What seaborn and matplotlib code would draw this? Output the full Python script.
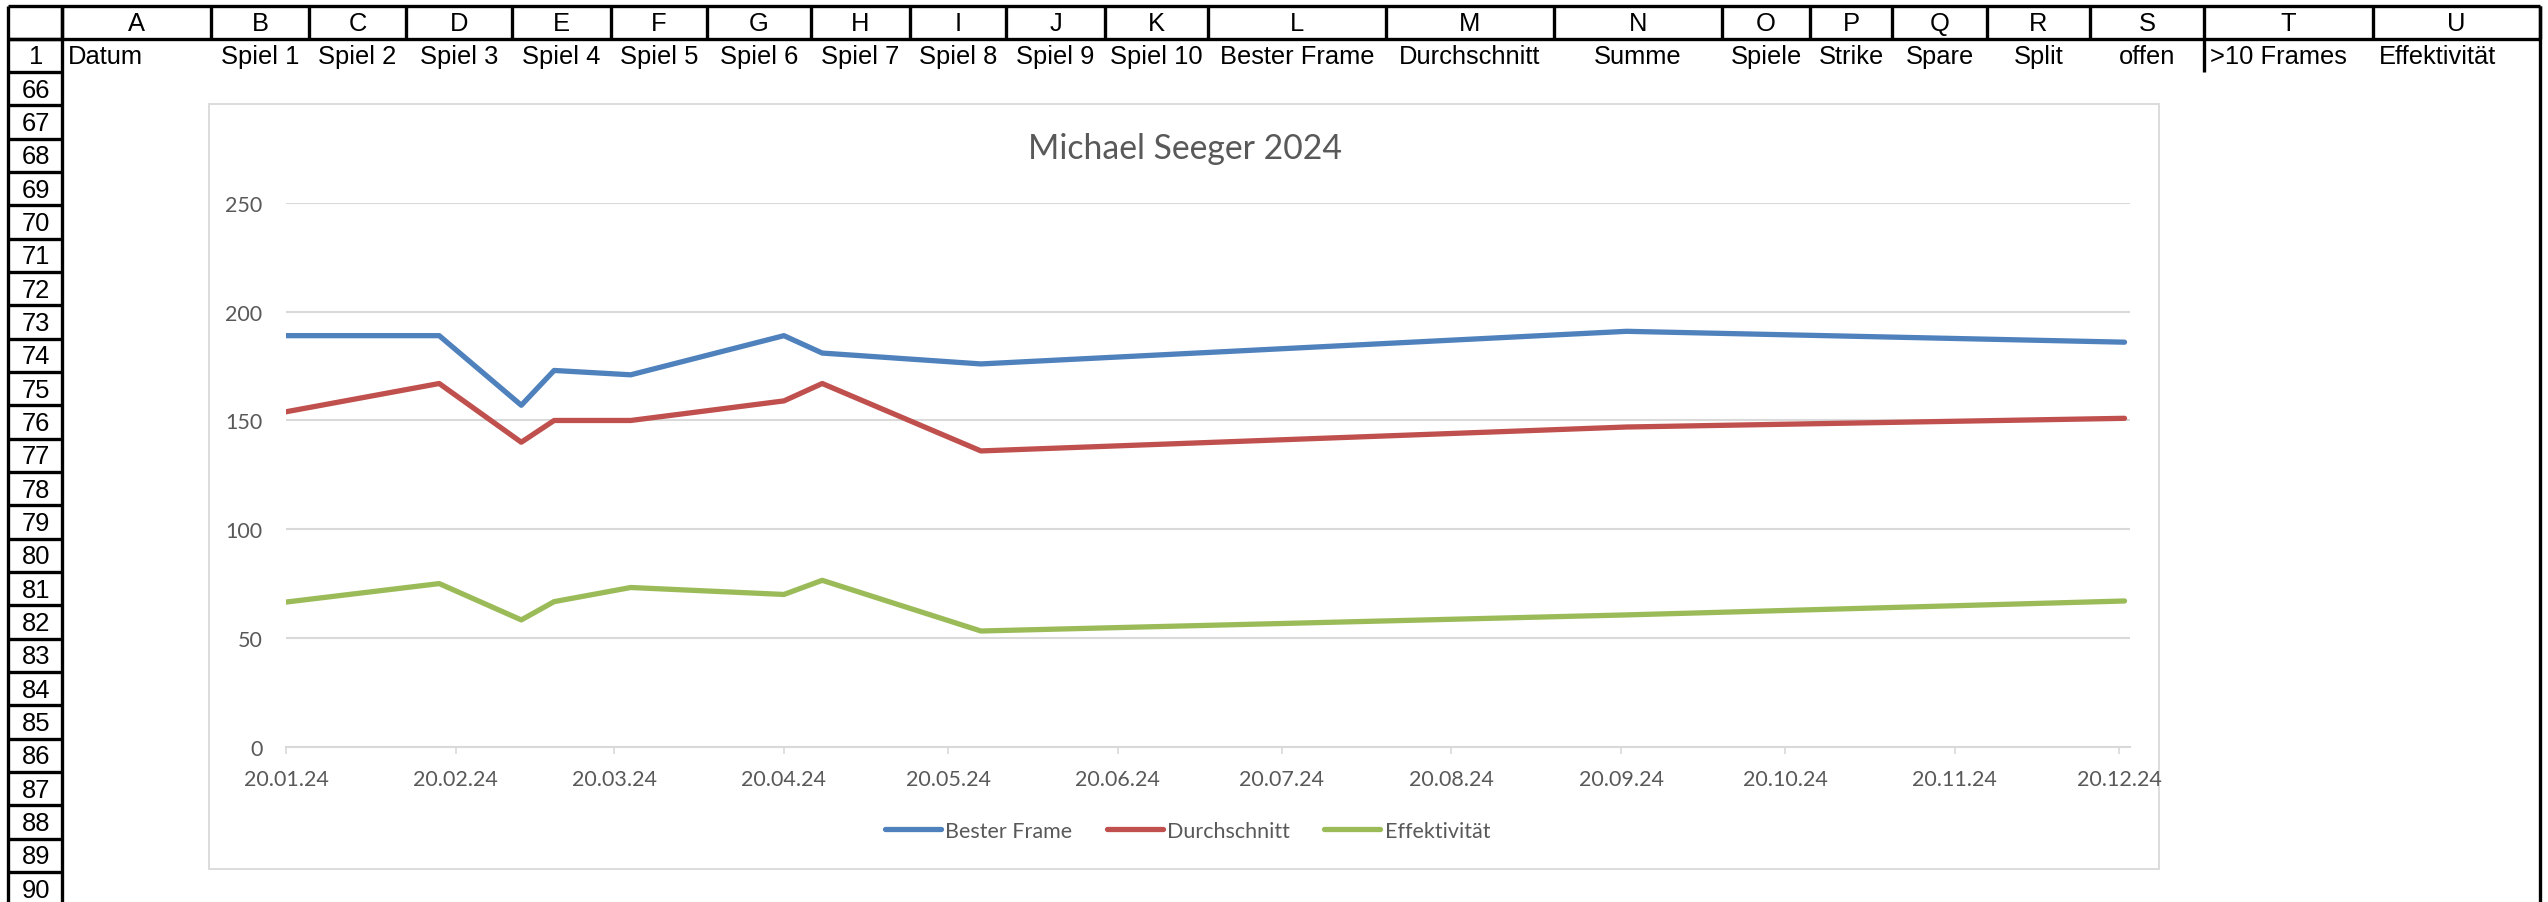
import matplotlib
matplotlib.use("Agg")
import matplotlib.pyplot as plt
import matplotlib.dates as mdates
from matplotlib.patches import Rectangle
import pandas as pd
import seaborn as sns

# ------------------ DATA ------------------
dates = ["20.01.24", "17.02.24", "03.03.24", "09.03.24", "23.03.24",
         "20.04.24", "27.04.24", "26.05.24", "21.09.24", "21.12.24"]
bester_frame = [189, 189, 157, 173, 171, 189, 181, 176, 191, 186]
durchschnitt = [154, 167, 140, 150, 150, 159, 167, 136, 147, 151]
effektivitaet = [66.5, 75, 58.3, 66.7, 73.2, 70, 76.5, 53.2, 60.6, 67]

series_names = ["Bester Frame", "Durchschnitt", "Effektivität"]
chart_title = "Michael Seeger 2024"
y_ticks = [0, 50, 100, 150, 200, 250]

col_letters = ["A", "B", "C", "D", "E", "F", "G", "H", "I", "J", "K",
               "L", "M", "N", "O", "P", "Q", "R", "S", "T", "U"]
row1_labels = ["Datum", "Spiel 1", "Spiel 2", "Spiel 3", "Spiel 4", "Spiel 5",
               "Spiel 6", "Spiel 7", "Spiel 8", "Spiel 9", "Spiel 10",
               "Bester Frame", "Durchschnitt", "Summe", "Spiele", "Strike",
               "Spare", "Split", "offen", ">10 Frames", "Effektivität"]
row_numbers = ["1"] + [str(n) for n in range(66, 91)]

# ------------------ LAYOUT (pixels) ------------------
W, H = 2548, 903
col_edges = [62, 211, 309, 406, 512, 611, 707, 811, 910, 1006, 1105, 1208,
             1386, 1554, 1722, 1810, 1892, 1987, 2090, 2204, 2373, 2540]
row1_align = ["left"] + ["center"] * 18 + ["left", "left"]
row_edges = [40, 73] + [73 + 33.33 * i for i in range(1, 26)]
sheet_font = "Liberation Sans"
grey_txt = "#595959"
grid_col = "#D9D9D9"
palette = {"Bester Frame": "#4F81BD", "Durchschnitt": "#C0504D", "Effektivität": "#9BBB59"}
line_w = 3.8
chart_fs = 15.5

sns.set_theme(style="white")
plt.rcParams['font.family'] = ['Lato', 'DejaVu Sans']

fig = plt.figure(figsize=(W / 100, H / 100), dpi=100)

# ------------------ SPREADSHEET BACKGROUND ------------------
sheet = fig.add_axes([0, 0, 1, 1])
sheet.set_xlim(0, W)
sheet.set_ylim(H, 0)
sheet.axis("off")

lw_sheet = 2.4
sheet.hlines([7, 40], 8, 2540, color="black", lw=lw_sheet)
sheet.vlines(col_edges, 7, 40, color="black", lw=lw_sheet)
sheet.vlines([8, 62, 2540], 7, H, color="black", lw=lw_sheet)
sheet.hlines(row_edges, 8, 62, color="black", lw=lw_sheet)
sheet.vlines(2204, 40, 73, color="black", lw=lw_sheet)

for i, letter in enumerate(col_letters):
    xc = (col_edges[i] + col_edges[i + 1]) / 2
    sheet.text(xc, 24, letter, ha="center", va="center", fontsize=18.4,
               family=sheet_font, color="black")

for i, lab in enumerate(row1_labels):
    if row1_align[i] == "left":
        x = col_edges[i] + 6
    else:
        x = (col_edges[i] + col_edges[i + 1]) / 2
    sheet.text(x, 57, lab, ha=row1_align[i], va="center", fontsize=18.4,
               family=sheet_font, color="black")

for i, num in enumerate(row_numbers):
    yc = (row_edges[i] + row_edges[i + 1]) / 2 if i + 1 < len(row_edges) else row_edges[i] + 16
    sheet.text(36, yc + 1, num, ha="center", va="center", fontsize=18.4,
               family=sheet_font, color="black")

chart_box = Rectangle((209, 105), 1950, 765, facecolor="white", edgecolor=grid_col, lw=1.3)
sheet.add_patch(chart_box)
sheet.text(1185, 149, chart_title, ha="center", va="center", fontsize=24.3, color=grey_txt)

# ------------------ CHART ------------------
df = pd.DataFrame({
    "Datum": pd.to_datetime(dates, format="%d.%m.%y"),
    "Bester Frame": bester_frame,
    "Durchschnitt": durchschnitt,
    "Effektivität": effektivitaet,
})
long = df.melt(id_vars="Datum", value_vars=series_names, var_name="Serie", value_name="Wert")

y0, y250 = 747.7, 204
ax = fig.add_axes([286 / W, (H - y0) / H, (2130 - 286) / W, (y0 - y250) / H])
ax.patch.set_alpha(0)
sns.lineplot(data=long, x="Datum", y="Wert", hue="Serie", hue_order=series_names,
             palette=palette, lw=line_w, ax=ax)
for line in ax.lines:
    line.set_solid_capstyle("round")
    line.set_solid_joinstyle("round")

ax.set_xlim(pd.Timestamp("2024-01-20"), pd.Timestamp("2024-12-22"))
ax.set_ylim(0, 250)
ax.set_yticks(y_ticks)
ax.xaxis.set_major_locator(mdates.MonthLocator(bymonthday=20))
ax.xaxis.set_major_formatter(mdates.DateFormatter("%d.%m.%y"))
ax.set_xlabel("")
ax.set_ylabel("")

for side in ["top", "right", "left"]:
    ax.spines[side].set_visible(False)
ax.spines["bottom"].set_color(grid_col)
ax.spines["bottom"].set_linewidth(1.5)
ax.yaxis.grid(True, color=grid_col, lw=1.5)
ax.xaxis.grid(False)
ax.set_axisbelow(True)

ax.tick_params(axis="x", bottom=True, length=5, width=1.2, color=grid_col,
               labelsize=chart_fs, labelcolor=grey_txt, pad=11)
ax.tick_params(axis="y", left=False, length=0, labelsize=chart_fs, labelcolor=grey_txt, pad=17)

leg = ax.legend(loc="center", bbox_to_anchor=(1187.5 / W, 1 - 831.7 / H),
                bbox_transform=fig.transFigure, ncol=3, frameon=False,
                fontsize=chart_fs, handlelength=2.6, handletextpad=0.2, columnspacing=1.6,
                title=None)
for txt in leg.get_texts():
    txt.set_color(grey_txt)
for h in leg.legend_handles:
    h.set_linewidth(line_w)
    h.set_solid_capstyle("round")

fig.savefig("out.png", dpi=100)
